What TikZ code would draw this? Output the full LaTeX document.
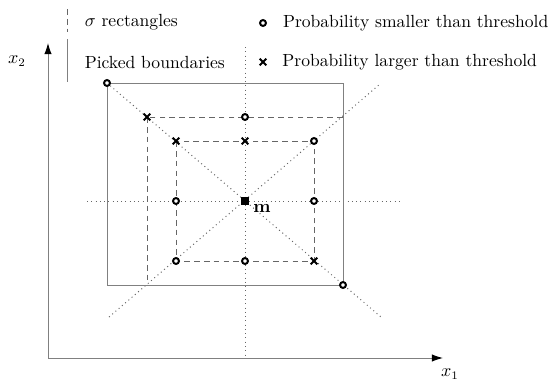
\documentclass[tikz,border=0pt]{standalone}
\usepackage{amsmath,amssymb}
\usepackage{xcolor}
\usepackage{tikz}
\usetikzlibrary{shapes.misc,arrows.meta,positioning}

\begin{document}
\begin{tikzpicture}[
  x=0.0214cm, y=-0.0214cm,
  font=\fontsize{10.7}{13}\selectfont,
  axis/.style={draw=black!50, line width=0.6pt, -{Latex[length=2.4mm,width=1.6mm,color=black]}},
  bound/.style={draw=black!50, line width=0.6pt},
  sig/.style={draw=black!60, line width=0.55pt, dash pattern=on 3.5pt off 2.5pt},
  guide/.style={draw=black!60, line width=0.6pt, dotted},
  lo/.style={circle, draw=black, fill=white, line width=1.2pt, inner sep=0pt, minimum size=3.6pt},
  hi/.style={cross out, draw=black, line width=1.1pt, inner sep=0pt, minimum size=3pt},
  ctr/.style={rectangle, fill=black, inner sep=0pt, minimum size=4.5pt},
]
\useasboundingbox (0,0) rectangle (550,386);

\coordinate (O) at (48,358);
\coordinate (ytip) at (48,43);
\coordinate (xtip) at (443,358);
\coordinate (m) at (245,201);
\coordinate (hl) at (87,201);
\coordinate (hr) at (402,201);
\coordinate (vt) at (245,47);
\coordinate (vb) at (245,358);
\coordinate (dTL) at (107,83);
\coordinate (dBR) at (381,317);
\coordinate (dBL) at (109,317);
\coordinate (dTR) at (380,84);
\coordinate (bTL) at (107,83);
\coordinate (bBR) at (343,285);
\coordinate (s2TL) at (147,117);
\coordinate (s1TL) at (176,141);
\coordinate (s1BR) at (314,261);

\draw[guide] (hl) -- (hr);
\draw[guide] (vt) -- (vb);
\draw[guide] (dTL) -- (dBR);
\draw[guide] (dBL) -- (dTR);
\draw[sig] (s2TL) rectangle (bBR);
\draw[sig] (s1TL) rectangle (s1BR);
\draw[bound] (bTL) rectangle (bBR);
\draw[axis] (O) -- (ytip);
\draw[axis] (O) -- (xtip);
\node (x2) at (17,61) {$x_2$};
\node (x1) at (450,374) {$x_1$};

\node[lo] (pA) at (bTL) {};
\node[lo] (pB) at (bBR) {};
\node[hi] (s2a) at (s2TL) {};
\node[lo] (s2b) at (245,117) {};
\node[hi] (s1a) at (s1TL) {};
\node[hi] (s1b) at (245,141) {};
\node[lo] (s1c) at (314,141) {};
\node[lo] (s1d) at (176,201) {};
\node[lo] (s1e) at (314,201) {};
\node[lo] (s1f) at (176,261) {};
\node[lo] (s1g) at (245,261) {};
\node[hi] (s1h) at (s1BR) {};
\node[ctr] (mc) at (m) {};
\node (mlab) at (262,209) {$\mathbf{m}$};

\coordinate (kd0) at (67,9);
\coordinate (kd1) at (67,32);
\coordinate (ks0) at (67,39);
\coordinate (ks1) at (67,82);
\draw[sig] (kd0) -- (kd1);
\draw[bound] (ks0) -- (ks1);
\node[anchor=west] (tsig) at (79,22) {$\sigma$ rectangles};
\node[anchor=west] (tpick) at (79,62) {Picked boundaries};
\node[lo] (klo) at (263,23) {};
\node[hi] (khi) at (263,62) {};
\node[right=2.2mm of klo] (tlo) {Probability smaller than threshold};
\node[right=2.2mm of khi] (thi) {Probability larger than threshold};
\end{tikzpicture}
\end{document}
